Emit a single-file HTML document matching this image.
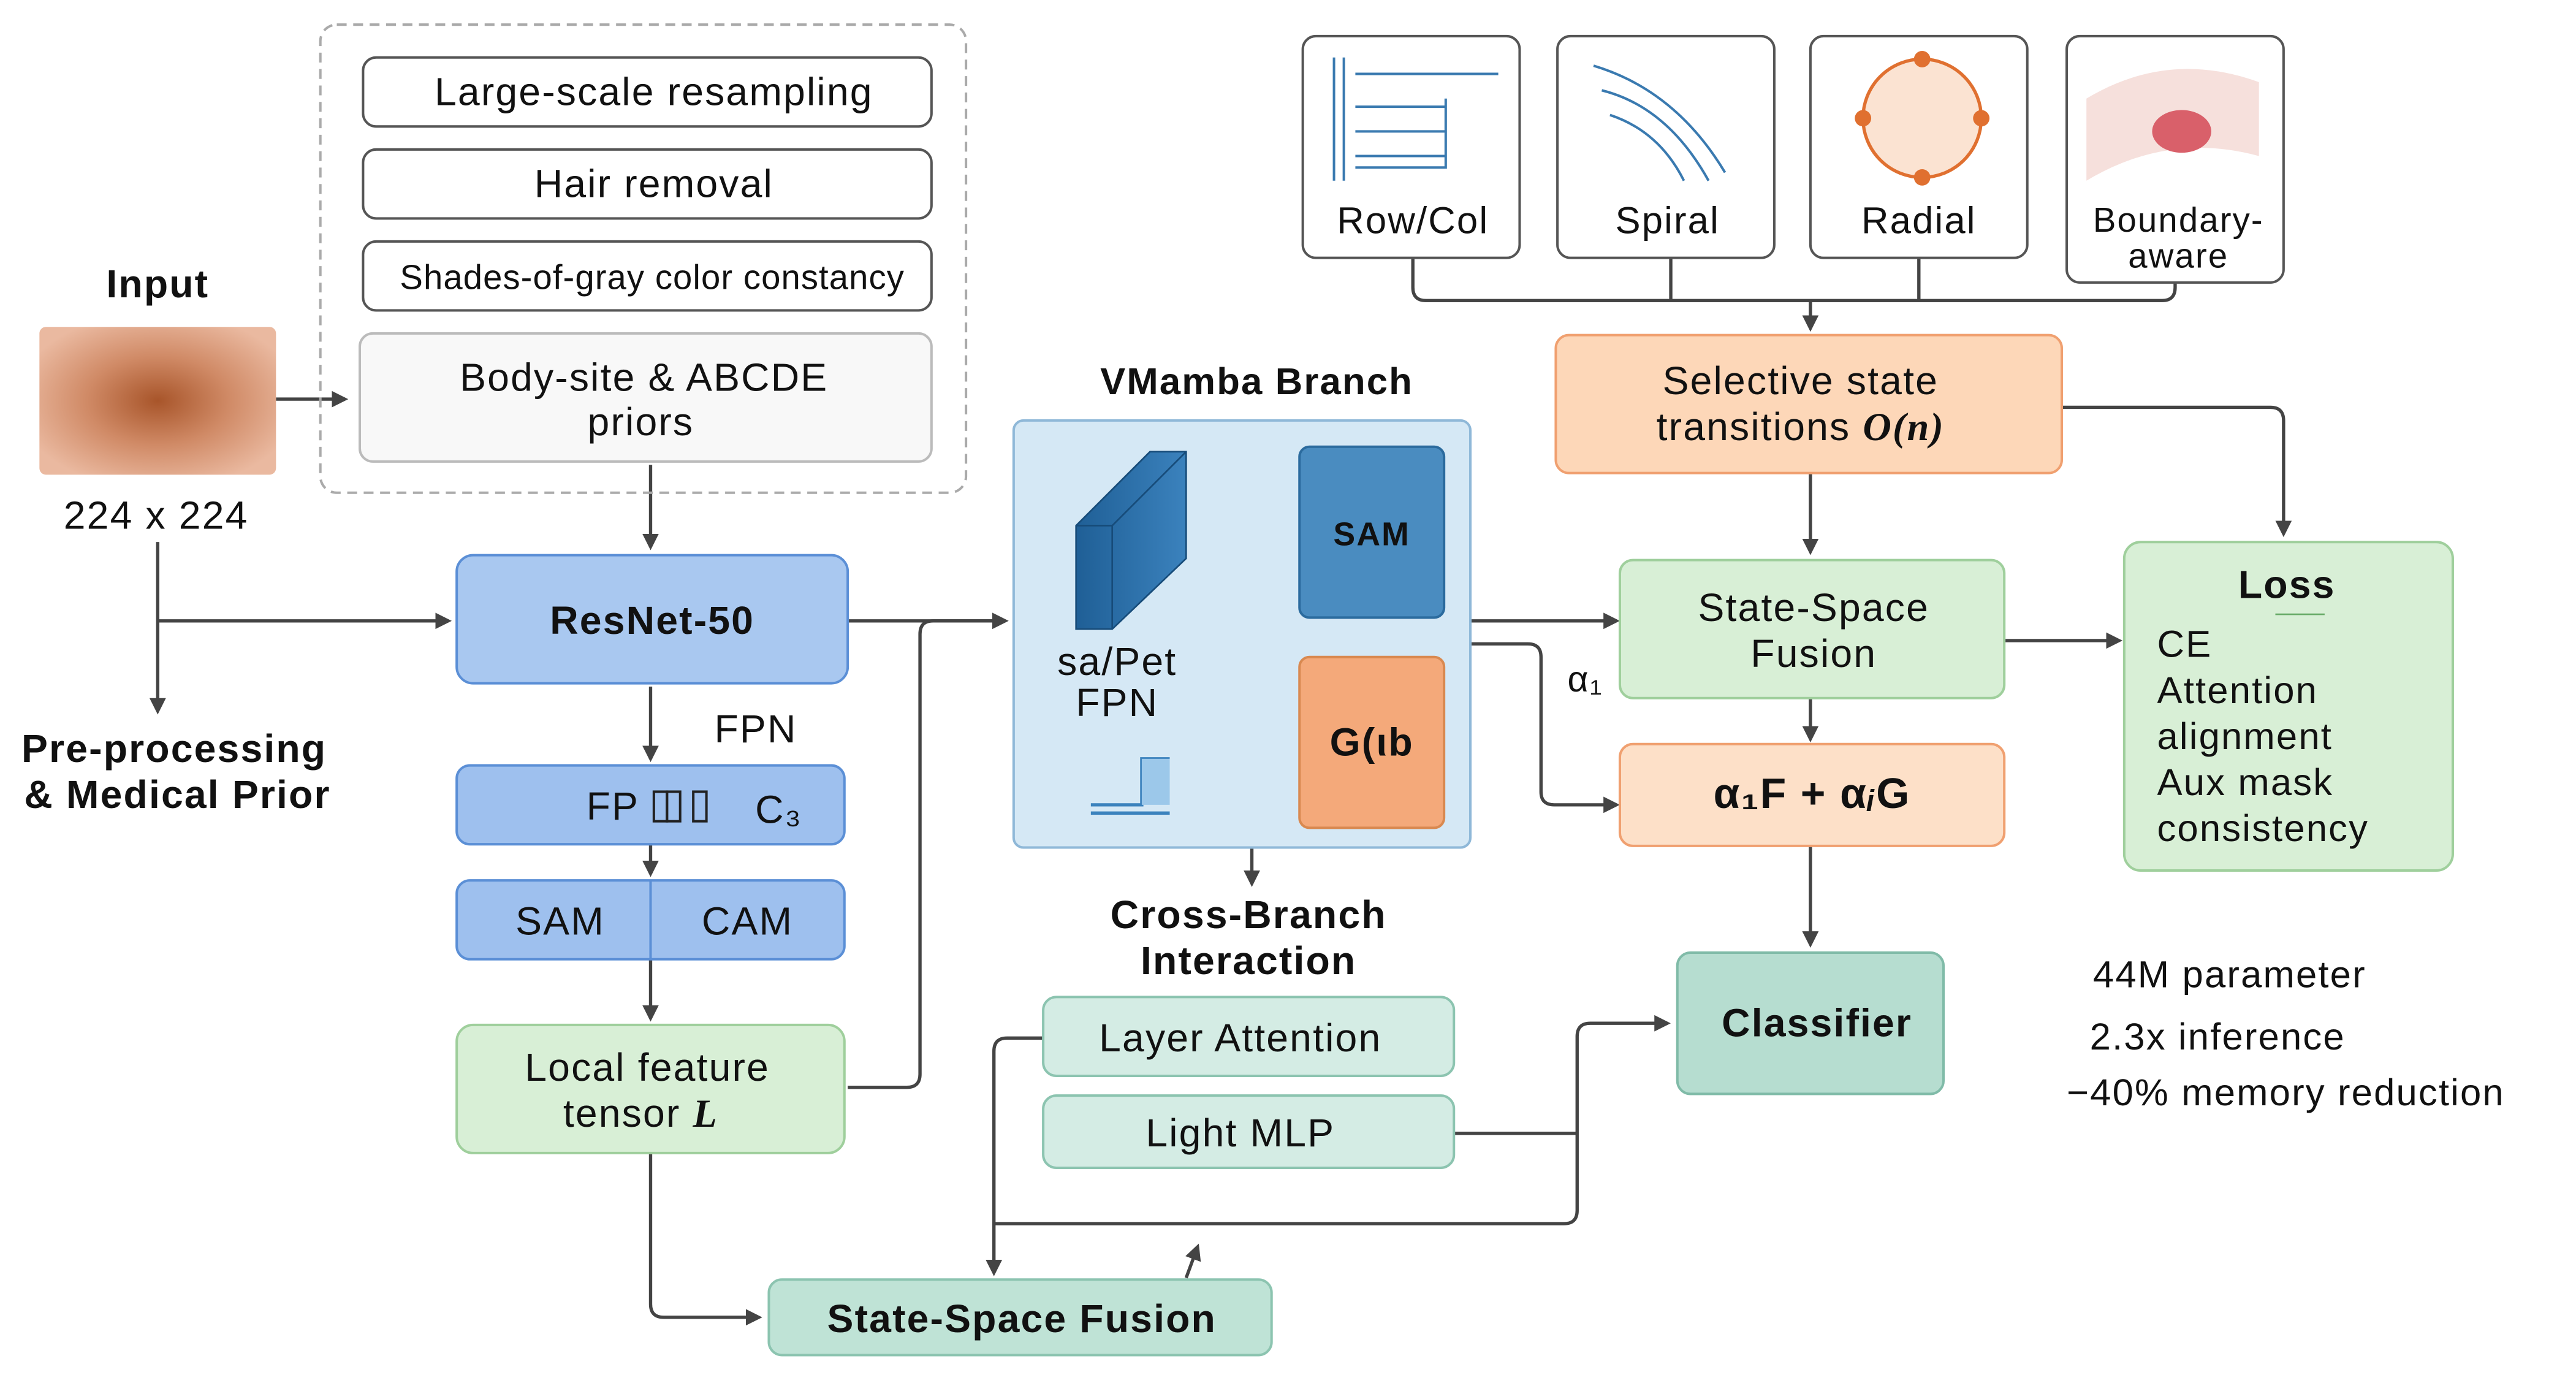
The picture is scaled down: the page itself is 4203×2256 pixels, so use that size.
<!DOCTYPE html>
<html><head><meta charset="utf-8"><style>
html,body{margin:0;padding:0;background:#fff;}
svg{display:block;}
text{font-family:"Liberation Sans",sans-serif;fill:#111;letter-spacing:0.8px;}
</style></head><body>
<svg width="4203" height="2256" viewBox="0 0 1568 842" preserveAspectRatio="none" xmlns="http://www.w3.org/2000/svg">
<defs>
<marker id="a" markerWidth="10" markerHeight="10" refX="8" refY="5" orient="auto" markerUnits="userSpaceOnUse"><path d="M0,0 L10,5 L0,10 z" fill="#444"/></marker>
<radialGradient id="skin" cx="50%" cy="50%" r="60%"><stop offset="0" stop-color="#a8552a"/><stop offset="0.5" stop-color="#d08a66"/><stop offset="1" stop-color="#eab9a0"/></radialGradient>
<linearGradient id="blk" x1="0" x2="1"><stop offset="0" stop-color="#1f5f96"/><stop offset="1" stop-color="#3b82bd"/></linearGradient>
</defs>
<rect width="1568" height="842" fill="#fff"/>
<g fill="none" stroke="#444" stroke-width="2">
<path d="M168,243 H210" marker-end="url(#a)"/>
<path d="M396,283 V333" marker-end="url(#a)"/>
<path d="M96,330 V433" marker-end="url(#a)"/>
<path d="M96,378 H273" marker-end="url(#a)"/>
<path d="M396,418 V462" marker-end="url(#a)"/>
<path d="M396,514 V532" marker-end="url(#a)"/>
<path d="M396,584 V620" marker-end="url(#a)"/>
<path d="M516,378 H612" marker-end="url(#a)"/>
<path d="M516,662 H552 Q560,662 560,654 V386 Q560,378 568,378 H612"/>
<path d="M396,702 V794 Q396,802 404,802 H462" marker-end="url(#a)"/>
<path d="M762,516 V538" marker-end="url(#a)"/>
<path d="M635,632 H613 Q605,632 605,640 V775" marker-end="url(#a)"/>
<path d="M605,745 H952 Q960,745 960,737 V631 Q960,623 968,623 H1015" marker-end="url(#a)"/>
<path d="M885,690 H960"/>
<path d="M722,778 L729,759" marker-end="url(#a)"/>
<path d="M722,324 H786" marker-end="url(#a)"/>
<path d="M760,324 V452 H786" marker-end="url(#a)"/>
<path d="M860,157 V175 Q860,183 868,183 H1102 M1017,157 V183 M1168,157 V183 M1324,172 V175 Q1324,183 1316,183 H1102 M1102,183 V200" marker-end="url(#a)"/>
<path d="M1102,288 V336" marker-end="url(#a)"/>
<path d="M1255,248 H1382 Q1390,248 1390,256 V325" marker-end="url(#a)"/>
<path d="M895,378 H984" marker-end="url(#a)"/>
<path d="M895,392 H930 Q938,392 938,400 V482 Q938,490 946,490 H984" marker-end="url(#a)"/>
<path d="M1102,425 V450" marker-end="url(#a)"/>
<path d="M1102,515 V575" marker-end="url(#a)"/>
<path d="M1220,390 H1290" marker-end="url(#a)"/>
</g>
<rect x="195" y="15" width="393" height="285" rx="10" fill="none" stroke="#aaa" stroke-width="1.5" stroke-dasharray="6,4"/>
<g stroke="#555" stroke-width="1.5">
<rect x="221" y="35" width="346" height="42" rx="8" fill="#fff"/>
<rect x="221" y="91" width="346" height="42" rx="8" fill="#fff"/>
<rect x="221" y="147" width="346" height="42" rx="8" fill="#fff"/>
<rect x="219" y="203" width="348" height="78" rx="8" fill="#f8f8f8" stroke="#bbb"/>
</g>
<g text-anchor="middle" font-size="24">
<text x="398" y="64">Large-scale resampling</text>
<text x="398" y="120">Hair removal</text>
<text x="397" y="176" font-size="21" style="letter-spacing:0.4px">Shades-of-gray color constancy</text>
<text x="392" y="238">Body-site &amp; ABCDE</text>
<text x="390" y="265">priors</text>
<text x="96" y="181" font-weight="bold">Input</text>
<text x="95" y="322">224 x 224</text>
<text x="106" y="464" font-weight="bold">Pre-processing</text>
<text x="108" y="492" font-weight="bold">&amp; Medical Prior</text>
</g>
<rect x="24" y="199" width="144" height="90" rx="4" fill="url(#skin)"/>
<g stroke="#5b8fd6" stroke-width="1.5" fill="#a9c8f0">
<rect x="278" y="338" width="238" height="78" rx="10"/>
<rect x="278" y="466" width="236" height="48" rx="8" fill="#9ec0ee"/>
<rect x="278" y="536" width="236" height="48" rx="8" fill="#9ec0ee"/>
<path d="M396,536 V584"/>
<rect x="398" y="482" width="8" height="18" fill="none" stroke="#222"/>
<rect x="406" y="482" width="8" height="18" fill="none" stroke="#222"/>
<rect x="422" y="482" width="8" height="18" fill="none" stroke="#222"/>
</g>
<rect x="278" y="624" width="236" height="78" rx="10" fill="#d8efd6" stroke="#9fcf9c" stroke-width="1.5"/>
<g text-anchor="middle" font-size="24">
<text x="397" y="386" font-weight="bold">ResNet-50</text>
<text x="460" y="452">FPN</text>
<text x="373" y="499">FP</text>
<text x="474" y="501">C₃</text>
<text x="341" y="569">SAM</text>
<text x="455" y="569">CAM</text>
<text x="394" y="658">Local feature</text>
<text x="390" y="686">tensor   <tspan font-family="Liberation Serif" font-style="italic" font-weight="bold">L</tspan></text>
</g>
<text x="765" y="240" text-anchor="middle" font-size="23" font-weight="bold">VMamba Branch</text>
<rect x="617" y="256" width="278" height="260" rx="6" fill="#d5e8f5" stroke="#8fb8d8" stroke-width="1.5"/>
<path d="M655,320 L700,275 L722,275 L722,340 L677,383 L655,383 z" fill="url(#blk)" stroke="#174c7a"/>
<path d="M677,320 L722,275 M677,320 V383 M655,320 H677" stroke="#174c7a" fill="none"/>
<path d="M664,490 H695 V462 H712 M664,495 H712" stroke="#3b82bd" fill="none" stroke-width="2"/>
<rect x="695" y="462" width="17" height="28" fill="#9cc8ea"/>
<rect x="791" y="272" width="88" height="104" rx="6" fill="#4a8cc0" stroke="#2b6b9e" stroke-width="1.5"/>
<rect x="791" y="400" width="88" height="104" rx="6" fill="#f4a97a" stroke="#d98950" stroke-width="1.5"/>
<g text-anchor="middle" font-size="24">
<text x="835" y="332" font-weight="bold" font-size="20">SAM</text>
<text x="835" y="460" font-weight="bold" font-family="Liberation Serif" font-size="24">G(ιb</text>
<text x="680" y="411">sa/Pet</text>
<text x="680" y="436">FPN</text>
<text x="760" y="565" font-weight="bold">Cross-Branch</text>
<text x="760" y="593" font-weight="bold">Interaction</text>
</g>
<rect x="635" y="607" width="250" height="48" rx="8" fill="#d4ece4" stroke="#8cc4b0" stroke-width="1.5"/>
<rect x="635" y="667" width="250" height="44" rx="8" fill="#d4ece4" stroke="#8cc4b0" stroke-width="1.5"/>
<rect x="468" y="779" width="306" height="46" rx="8" fill="#bfe3d6" stroke="#8cc4b0" stroke-width="1.5"/>
<g text-anchor="middle" font-size="24">
<text x="755" y="640">Layer Attention</text>
<text x="755" y="698">Light MLP</text>
<text x="622" y="811" font-weight="bold">State-Space Fusion</text>
</g>
<g stroke="#555" stroke-width="1.5" fill="#fff">
<rect x="793" y="22" width="132" height="135" rx="8"/>
<rect x="948" y="22" width="132" height="135" rx="8"/>
<rect x="1102" y="22" width="132" height="135" rx="8"/>
<rect x="1258" y="22" width="132" height="150" rx="8"/>
</g>
<g stroke="#3a7ab0" stroke-width="1.5" fill="none">
<path d="M812,35 V110 M818,35 V110 M825,45 H912 M825,65 H880 M825,80 H880 M825,95 H880 M880,60 V102 H825" />
<path d="M970,40 Q1020,55 1050,105 M975,55 Q1015,65 1040,110 M980,70 Q1010,80 1025,110"/>
</g>
<circle cx="1170" cy="72" r="36" fill="#fbe3d2" stroke="#e07030" stroke-width="2"/>
<g fill="#e07030"><circle cx="1170" cy="36" r="5"/><circle cx="1170" cy="108" r="5"/><circle cx="1134" cy="72" r="5"/><circle cx="1206" cy="72" r="5"/></g>
<path d="M1270,60 Q1320,30 1375,50 L1375,95 Q1320,80 1270,110 z" fill="#f6e0dc"/>
<ellipse cx="1328" cy="80" rx="18" ry="13" fill="#d9606a"/>
<g text-anchor="middle" font-size="23">
<text x="860" y="142">Row/Col</text>
<text x="1015" y="142">Spiral</text>
<text x="1168" y="142">Radial</text>
<text x="1326" y="141" font-size="21">Boundary-</text>
<text x="1326" y="163" font-size="21">aware</text>
</g>
<rect x="947" y="204" width="308" height="84" rx="8" fill="#fdd7b8" stroke="#f0a070" stroke-width="1.5"/>
<rect x="986" y="341" width="234" height="84" rx="8" fill="#d8efd6" stroke="#9fcf9c" stroke-width="1.5"/>
<rect x="986" y="453" width="234" height="62" rx="8" fill="#fde0c8" stroke="#f0a070" stroke-width="1.5"/>
<rect x="1021" y="580" width="162" height="86" rx="8" fill="#b6ddd0" stroke="#80bba8" stroke-width="1.5"/>
<rect x="1293" y="330" width="200" height="200" rx="10" fill="#d8efd6" stroke="#9fcf9c" stroke-width="1.5"/>
<g text-anchor="middle" font-size="24">
<text x="1096" y="240">Selective state</text>
<text x="1096" y="268">transitions  <tspan font-family="Liberation Serif" font-style="italic" font-weight="bold" font-size="24">O(n)</tspan></text>
<text x="1104" y="378">State-Space</text>
<text x="1104" y="406">Fusion</text>
<text x="1103" y="492" font-family="Liberation Serif" font-size="26" font-weight="bold">α₁F  +  α<tspan font-style="italic">ᵢ</tspan>G</text>
<text x="1106" y="631" font-weight="bold">Classifier</text>
<text x="1392" y="364" font-weight="bold">Loss</text>
<text x="965" y="421" font-family="Liberation Serif" font-size="22">α₁</text>
</g>
<path d="M1385,374 H1415" stroke="#6a6" stroke-width="1"/>
<g font-size="23">
<text x="1313" y="400">CE</text>
<text x="1313" y="428">Attention</text>
<text x="1313" y="456">alignment</text>
<text x="1313" y="484">Aux mask</text>
<text x="1313" y="512">consistency</text>
<text x="1274" y="601">44M parameter</text>
<text x="1272" y="639">2.3x inference</text>
<text x="1258" y="673">−40% memory reduction</text>
</g>
</svg>
</body></html>
